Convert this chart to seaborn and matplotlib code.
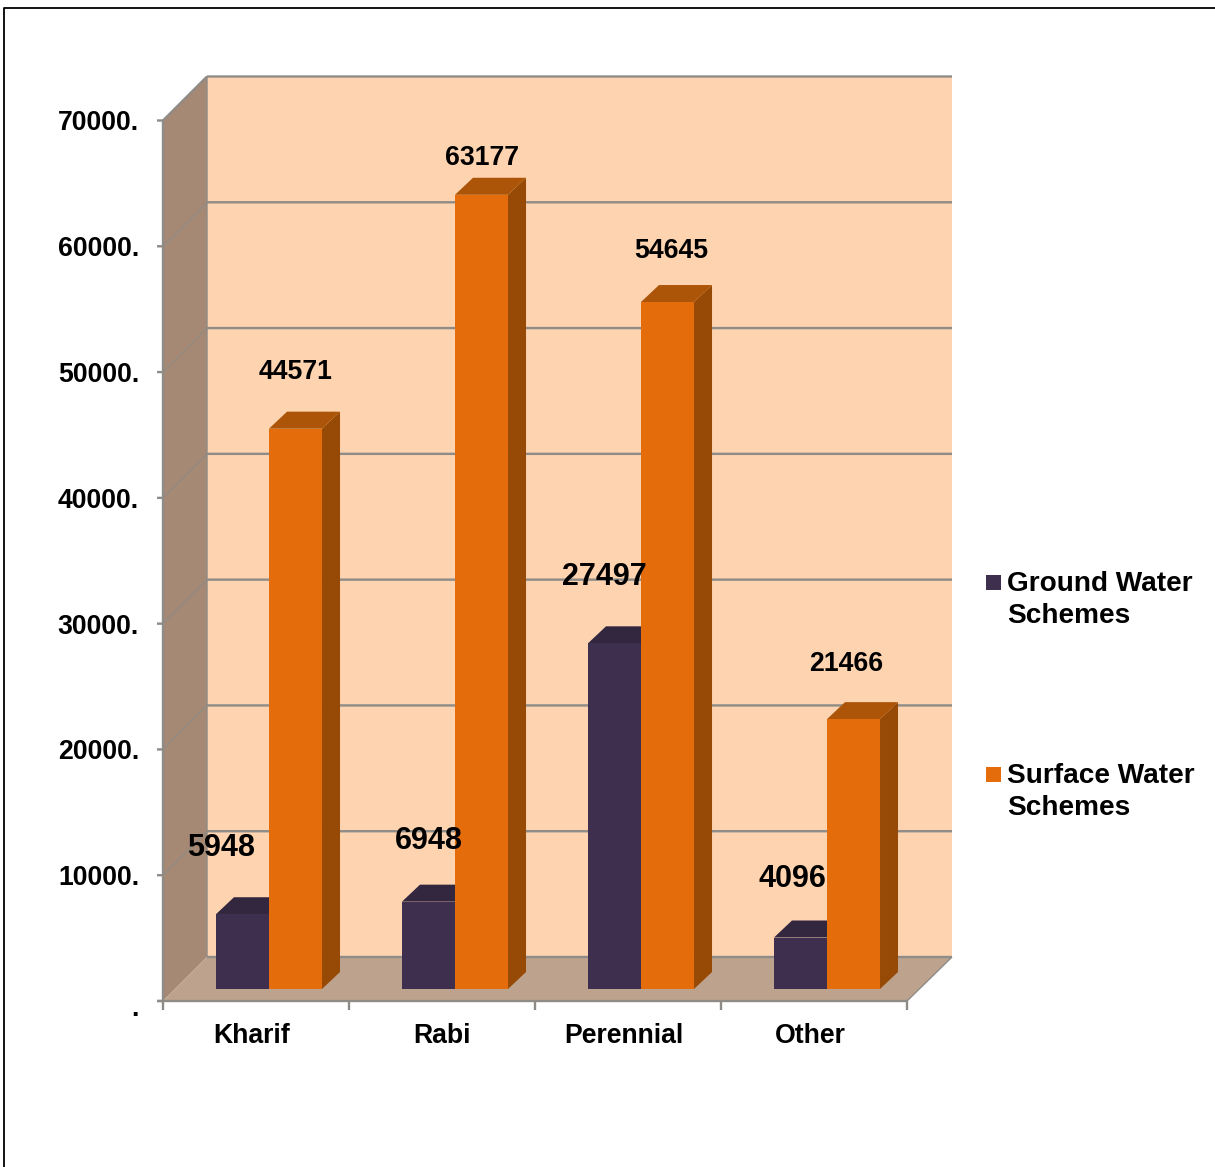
import matplotlib
matplotlib.use('Agg')
import matplotlib.pyplot as plt
from matplotlib.lines import Line2D
from matplotlib.patches import Polygon, Rectangle
import numpy as np
import pandas as pd
import seaborn as sns

categories = ['Kharif', 'Rabi', 'Perennial', 'Other']
ground_water = [5948, 6948, 27497, 4096]
surface_water = [44571, 63177, 54645, 21466]
series_names = ['Ground Water Schemes', 'Surface Water Schemes']
y_ticks = [0, 10000, 20000, 30000, 40000, 50000, 60000, 70000]
y_tick_labels = ['.', '10000.', '20000.', '30000.', '40000.', '50000.', '60000.', '70000.']

W, H = 1215, 1167
GREY = '#8f8b86'
WALL = '#fdd3b0'
SIDE = '#a58974'
FLOOR = '#bda38e'
FILL = {'Ground Water Schemes': '#3f2f4f', 'Surface Water Schemes': '#e46c0a'}
TOP = {'Ground Water Schemes': '#33263f', 'Surface Water Schemes': '#ac5508'}
RIGHT = {'Ground Water Schemes': '#2c2136', 'Surface Water Schemes': '#964a05'}
LABEL_SIZE = 19.2
VALUE_SIZE = {'Ground Water Schemes': 22, 'Surface Water Schemes': 19.2}

# label shift from the top centre of each bar, pixels (the chart places them by hand)
ground_shift = [(-21, 66), (0, 61), (-10, 66), (-8, 59)]
surface_shift = [(0, 57), (0, 37), (4, 51), (-7, 55)]
# category labels are not quite centred under their ticks
cat_centres = [252, 442, 624, 810]


def px(x, y):
    return (x, H - y)


sns.set_theme(style='white')
plt.rcParams['font.family'] = ['Liberation Sans', 'DejaVu Sans']
fig = plt.figure(figsize=(W / 100, H / 100), dpi=100)

# axes is the plane the bar fronts sit in
left, right, bottom, top = 176, 920, 989, 109
ax = fig.add_axes([left / W, 1 - bottom / H, (right - left) / W, (bottom - top) / H])
ax.patch.set_alpha(0)

df = pd.DataFrame({
    'category': categories * 2,
    'value': ground_water + surface_water,
    'series': [series_names[0]] * 4 + [series_names[1]] * 4,
})
sns.barplot(data=df, x='category', y='value', hue='series', order=categories,
            hue_order=series_names, palette=FILL, width=0.57, gap=0, saturation=1,
            dodge=True, legend=False, ax=ax, zorder=5, linewidth=0)
ax.set_xlim(-0.5, 3.5)
ax.set_ylim(0, 70000)
ax.set_xlabel('')
ax.set_ylabel('')
ax.set_axis_off()
fig.canvas.draw()


def add_poly(points, color, zorder):
    fig.add_artist(Polygon([px(*p) for p in points], closed=True, facecolor=color, edgecolor='none',
                           transform=None, zorder=zorder))


def add_line(x0, y0, x1, y1, lw=1.7, zorder=2):
    fig.add_artist(Line2D([x0, x1], [H - y0, H - y1], color=GREY, lw=lw, transform=None,
                          zorder=zorder, solid_capstyle='butt', snap=False))


# walls and floor of the box
x0, x1, y0, y1 = 163, 907, 1001, 120.5
dx, dy = 44, 44
add_poly([(x0, y0), (x0, y1), (x0 + dx, y1 - dy), (x0 + dx, y0 - dy)], SIDE, -3)
add_poly([(x0 + dx, y0 - dy), (x0 + dx, y1 - dy), (x1 + dx + 1, y1 - dy), (x1 + dx + 1, y0 - dy)], WALL, -3)
add_poly([(x0, y0), (x0 + dx, y0 - dy), (x1 + dx + 1, y0 - dy), (x1, y0)], FLOOR, -3)

# gridlines, slanted part on the side wall
scale = (y0 - y1) / 70000
for tick, label in zip(y_ticks, y_tick_labels):
    y = y0 - tick * scale
    if tick > 0:
        add_line(x0, y, x0 + dx, y - dy, lw=0.8 if tick < 70000 else 1.7, zorder=-2)
    add_line(x0 + dx, y - dy, x1 + dx + 1, y - dy, zorder=-2)
    add_line(x0 - 6, y, x0, y)
    fig.text(139 / W, 1 - (y + (8 if tick == 0 else 3)) / H, label, ha='right', va='center',
             fontsize=LABEL_SIZE, fontweight='bold', color='black')
add_line(x0, y0 + 1, x0, y1)
add_line(x0 + dx, y0 - dy, x0 + dx, y1 - dy, lw=1.0, zorder=-2)
add_line(x0 - 6, y0, x1, y0)
add_line(x1, y0, x1 + dx + 1, y0 - dy, lw=1.0, zorder=-2)

for i, name in enumerate(categories):
    xt = x0 + i * (x1 - x0) / 4
    add_line(xt, y0, xt, y0 + 9)
    fig.text(cat_centres[i] / W, 1 - 1036 / H, name, ha='center', va='center',
             fontsize=LABEL_SIZE, fontweight='bold', color='black')
add_line(x1, y0, x1, y0 + 9)

# side and top faces of each bar, drawn behind the front faces
depth_x, depth_y = 18, 17
bars = sorted(ax.patches, key=lambda p: p.get_x())
bars = [b for b in bars if b.get_height() > 0]
values = [v for pair in zip(ground_water, surface_water) for v in pair]
names = [n for _ in categories for n in series_names]
shifts = [s for pair in zip(ground_shift, surface_shift) for s in pair]
for bar, value, name, shift in zip(bars, values, names, shifts):
    (bx0, bt), (bx1, bb) = ax.transData.transform(
        [(bar.get_x(), bar.get_height()), (bar.get_x() + bar.get_width(), 0)])
    bt, bb = H - bt, H - bb
    add_poly([(bx1, bb), (bx1, bt), (bx1 + depth_x, bt - depth_y), (bx1 + depth_x, bb - depth_y)],
             RIGHT[name], 1)
    add_poly([(bx0, bt), (bx0 + depth_x, bt - depth_y), (bx1 + depth_x, bt - depth_y), (bx1, bt)],
             TOP[name], 1)
    ax.annotate(str(value), xy=(bar.get_x() + bar.get_width() / 2, value),
                xytext=(shift[0], shift[1]), textcoords='offset pixels', ha='center', va='center',
                fontsize=VALUE_SIZE[name], fontweight='bold', color='black', zorder=10, annotation_clip=False)

# bars on top of the box
ax.set_zorder(3)

# legend
for name, ly in zip(series_names, [582, 774]):
    fig.add_artist(Rectangle(px(986, ly + 8), 15, 15, facecolor=FILL[name], edgecolor='none', transform=None))
    first, second = name.split(' Water ')
    fig.text(1007 / W, 1 - (ly + 2) / H, first + ' Water', ha='left', va='center', fontsize=20.2, fontweight='bold', color='black')
    fig.text(1007 / W, 1 - (ly + 34) / H, second, ha='left', va='center', fontsize=20.2, fontweight='bold', color='black')

# frame of the pasted slide, only top and left show
fig.add_artist(Line2D([4, 4, W], [0, H - 7.5, H - 7.5], color='black', lw=1.3, transform=None))

fig.savefig('out.png', dpi=100)
